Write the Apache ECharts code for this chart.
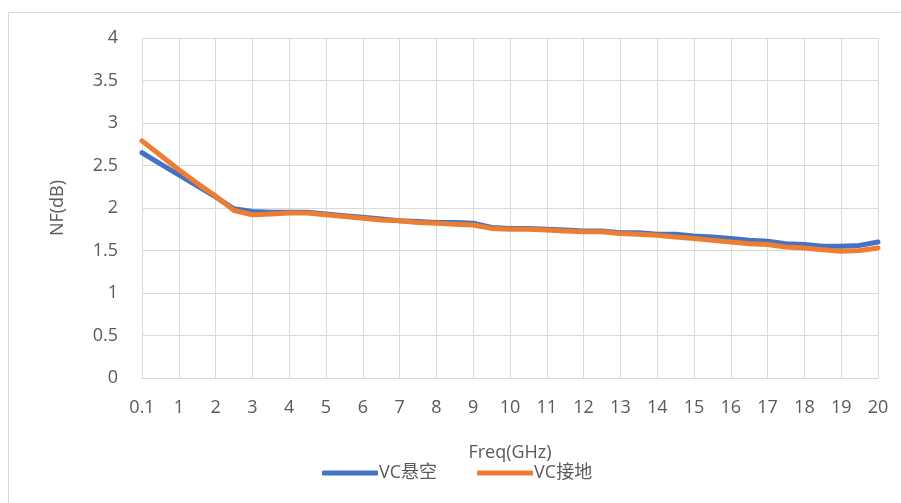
<!DOCTYPE html>
<html>
<head>
<meta charset="utf-8">
<script src="https://cdn.jsdelivr.net/npm/echarts@6/dist/echarts.min.js"></script>
<style>
  html, body { margin: 0; padding: 0; background: #fff; }
  #chart { width: 901px; height: 503px; }
</style>
</head>
<body>
<div id="chart"></div>
<script>
// frequency points (GHz)
const freq = ['0.1', '0.5', '1', '1.5', '2', '2.5', '3', '3.5', '4', '4.5', '5', '5.5', '6', '6.5', '7', '7.5',
  '8', '8.5', '9', '9.5', '10', '10.5', '11', '11.5', '12', '12.5', '13', '13.5', '14', '14.5', '15', '15.5',
  '16', '16.5', '17', '17.5', '18', '18.5', '19', '19.5', '20']

const nfFloat = [2.65, 2.52, 2.39, 2.26, 2.13, 1.99, 1.96, 1.95, 1.95, 1.95, 1.93, 1.91, 1.89, 1.87, 1.85, 1.84,
  1.83, 1.83, 1.82, 1.77, 1.76, 1.76, 1.75, 1.74, 1.73, 1.73, 1.71, 1.71, 1.69, 1.69, 1.67, 1.66,
  1.64, 1.62, 1.61, 1.58, 1.57, 1.55, 1.55, 1.56, 1.60]

const nfGround = [2.79, 2.62, 2.45, 2.29, 2.14, 1.97, 1.92, 1.93, 1.94, 1.94, 1.92, 1.90, 1.88, 1.86, 1.85, 1.83,
  1.82, 1.81, 1.80, 1.76, 1.75, 1.75, 1.74, 1.73, 1.72, 1.72, 1.70, 1.69, 1.68, 1.66, 1.64, 1.62,
  1.60, 1.58, 1.57, 1.54, 1.53, 1.51, 1.49, 1.50, 1.53]

const font = '"Open Sans", "Noto Sans CJK SC", sans-serif'
const textColor = '#595959'
const gridColor = '#d9d9d9'

const chart = echarts.init(document.getElementById('chart'))

const option = {
  animation: false,
  textStyle: { fontFamily: font },
  graphic: [{
    type: 'rect',
    shape: { x: 8.5, y: 12.5, width: 1000, height: 600 },
    style: { fill: 'none', stroke: gridColor, lineWidth: 1 },
    silent: true
  }],
  grid: { left: 142, right: 23, top: 38, bottom: 125 },
  legend: {
    left: 317, top: 459,
    itemWidth: 56, itemHeight: 5, itemGap: 40,
    icon: 'roundRect',
    textStyle: { color: textColor, fontSize: 18, fontFamily: font, padding: [0, 0, 0, -4] },
    data: ['VC悬空', 'VC接地']
  },
  xAxis: {
    type: 'category',
    data: freq,
    boundaryGap: false,
    name: 'Freq(GHz)',
    nameLocation: 'middle',
    nameGap: 66,
    nameTextStyle: { color: textColor, fontSize: 18, fontFamily: font },
    axisLine: { lineStyle: { color: gridColor, width: 1 } },
    axisTick: { show: false },
    axisLabel: { interval: 1, color: textColor, fontSize: 18, margin: 21, fontFamily: font },
    splitLine: { show: true, interval: 1, lineStyle: { color: gridColor, width: 1 } }
  },
  yAxis: {
    type: 'value',
    min: 0, max: 4, interval: 0.5,
    name: 'NF(dB)',
    nameLocation: 'middle',
    nameGap: 75,
    nameTextStyle: { color: textColor, fontSize: 18, fontFamily: font },
    axisLine: { show: false },
    axisTick: { show: false },
    axisLabel: { color: textColor, fontSize: 18, margin: 24, fontFamily: font },
    splitLine: { lineStyle: { color: gridColor, width: 1 } }
  },
  series: [
    {
      name: 'VC悬空',
      type: 'line',
      data: nfFloat,
      showSymbol: false,
      symbol: 'none',
      itemStyle: { color: '#4472C4' },
      lineStyle: { color: '#4472C4', width: 5, cap: 'round', join: 'round' }
    },
    {
      name: 'VC接地',
      type: 'line',
      data: nfGround,
      showSymbol: false,
      symbol: 'none',
      itemStyle: { color: '#ED7D31' },
      lineStyle: { color: '#ED7D31', width: 5, cap: 'round', join: 'round' }
    }
  ]
}
chart.setOption(option)
</script>
</body>
</html>
